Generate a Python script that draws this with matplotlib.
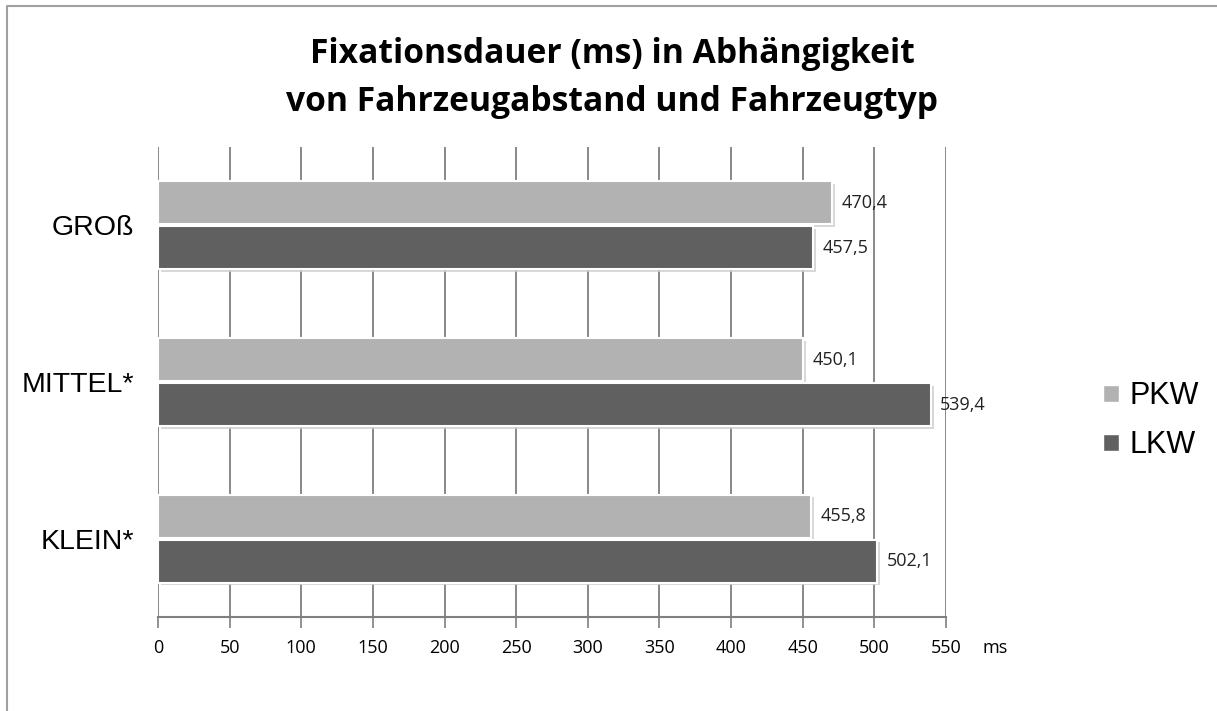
import matplotlib.pyplot as plt
import matplotlib.patheffects as pe
from matplotlib.lines import Line2D
from matplotlib.patches import Patch
import numpy as np

categories = ['GROß', 'MITTEL*', 'KLEIN*']
pkw = [470.4, 450.1, 455.8]
lkw = [457.5, 539.4, 502.1]
xticks = list(range(0, 551, 50))

c_pkw = '#b2b2b2'
c_lkw = '#606060'
grid_c = '#7f7f7f'

fig = plt.figure(figsize=(12.17, 7.11), dpi=100)
# cropped frame of the original chart: only top and left edges visible
fig.lines.append(Line2D([0.006, 0.006, 1.0], [0.0, 0.991, 0.991], transform=fig.transFigure,
                        color='#a0a0a0', linewidth=1.5))
ax = fig.add_axes([0.1298, 0.1322, 0.6475, 0.661])

y = np.arange(len(categories))
h = 0.275
off = 0.1435
shadow = [pe.SimplePatchShadow(offset=(2, -2), shadow_rgbFace='#cfcfcf', alpha=0.8), pe.Normal()]
b1 = ax.barh(y - off, pkw, height=h, color=c_pkw, edgecolor='white', linewidth=1.5, zorder=3)
b2 = ax.barh(y + off, lkw, height=h, color=c_lkw, edgecolor='white', linewidth=1.5, zorder=3)
for bar in list(b1) + list(b2):
    bar.set_path_effects(shadow)

for bars, vals in ((b1, pkw), (b2, lkw)):
    for bar, v in zip(bars, vals):
        ax.text(v + 6.5, bar.get_y() + bar.get_height() / 2, f'{v:.1f}'.replace('.', ','),
                va='center', ha='left', fontsize=13, family='Open Sans', color='#222222')

ax.set_xlim(0, 550)
ax.set_ylim(2.5, -0.5)
ax.set_xticks(xticks)
ax.set_xticklabels([str(t) for t in xticks], family='Open Sans', fontsize=13)
ax.set_yticks(y)
ax.set_yticklabels(categories, family='Liberation Sans', fontsize=20.5)
ax.tick_params(axis='y', length=0, pad=17)
ax.tick_params(axis='x', length=8, width=1.2, color=grid_c, pad=8, direction='out')
ax.xaxis.grid(True, color=grid_c, linewidth=1.3, zorder=0)
ax.set_axisbelow(True)
for s in ['top', 'right', 'left']:
    ax.spines[s].set_visible(False)
ax.spines['bottom'].set_color(grid_c)
ax.spines['bottom'].set_linewidth(1.5)

ax.annotate('ms', xy=(550, 0), xycoords=('data', 'axes fraction'), xytext=(49, -31),
            textcoords='offset pixels', ha='center', va='center',
            family='Open Sans', fontsize=13)

fig.text(0.503, 0.89, 'Fixationsdauer (ms) in Abhängigkeit\nvon Fahrzeugabstand und Fahrzeugtyp',
         ha='center', va='center', family='Open Sans', fontweight='bold', fontsize=24.2,
         linespacing=1.55)

handles = [Patch(facecolor=c_pkw, edgecolor='white'), Patch(facecolor=c_lkw, edgecolor='white')]
fig.legend(handles, ['PKW', 'LKW'], loc='center left', bbox_to_anchor=(0.884, 0.408),
           frameon=False, prop={'family': 'Liberation Sans', 'size': 22},
           handlelength=0.5, handleheight=0.5, handletextpad=0.35, labelspacing=0.62)

fig.savefig('out.png', dpi=100)
